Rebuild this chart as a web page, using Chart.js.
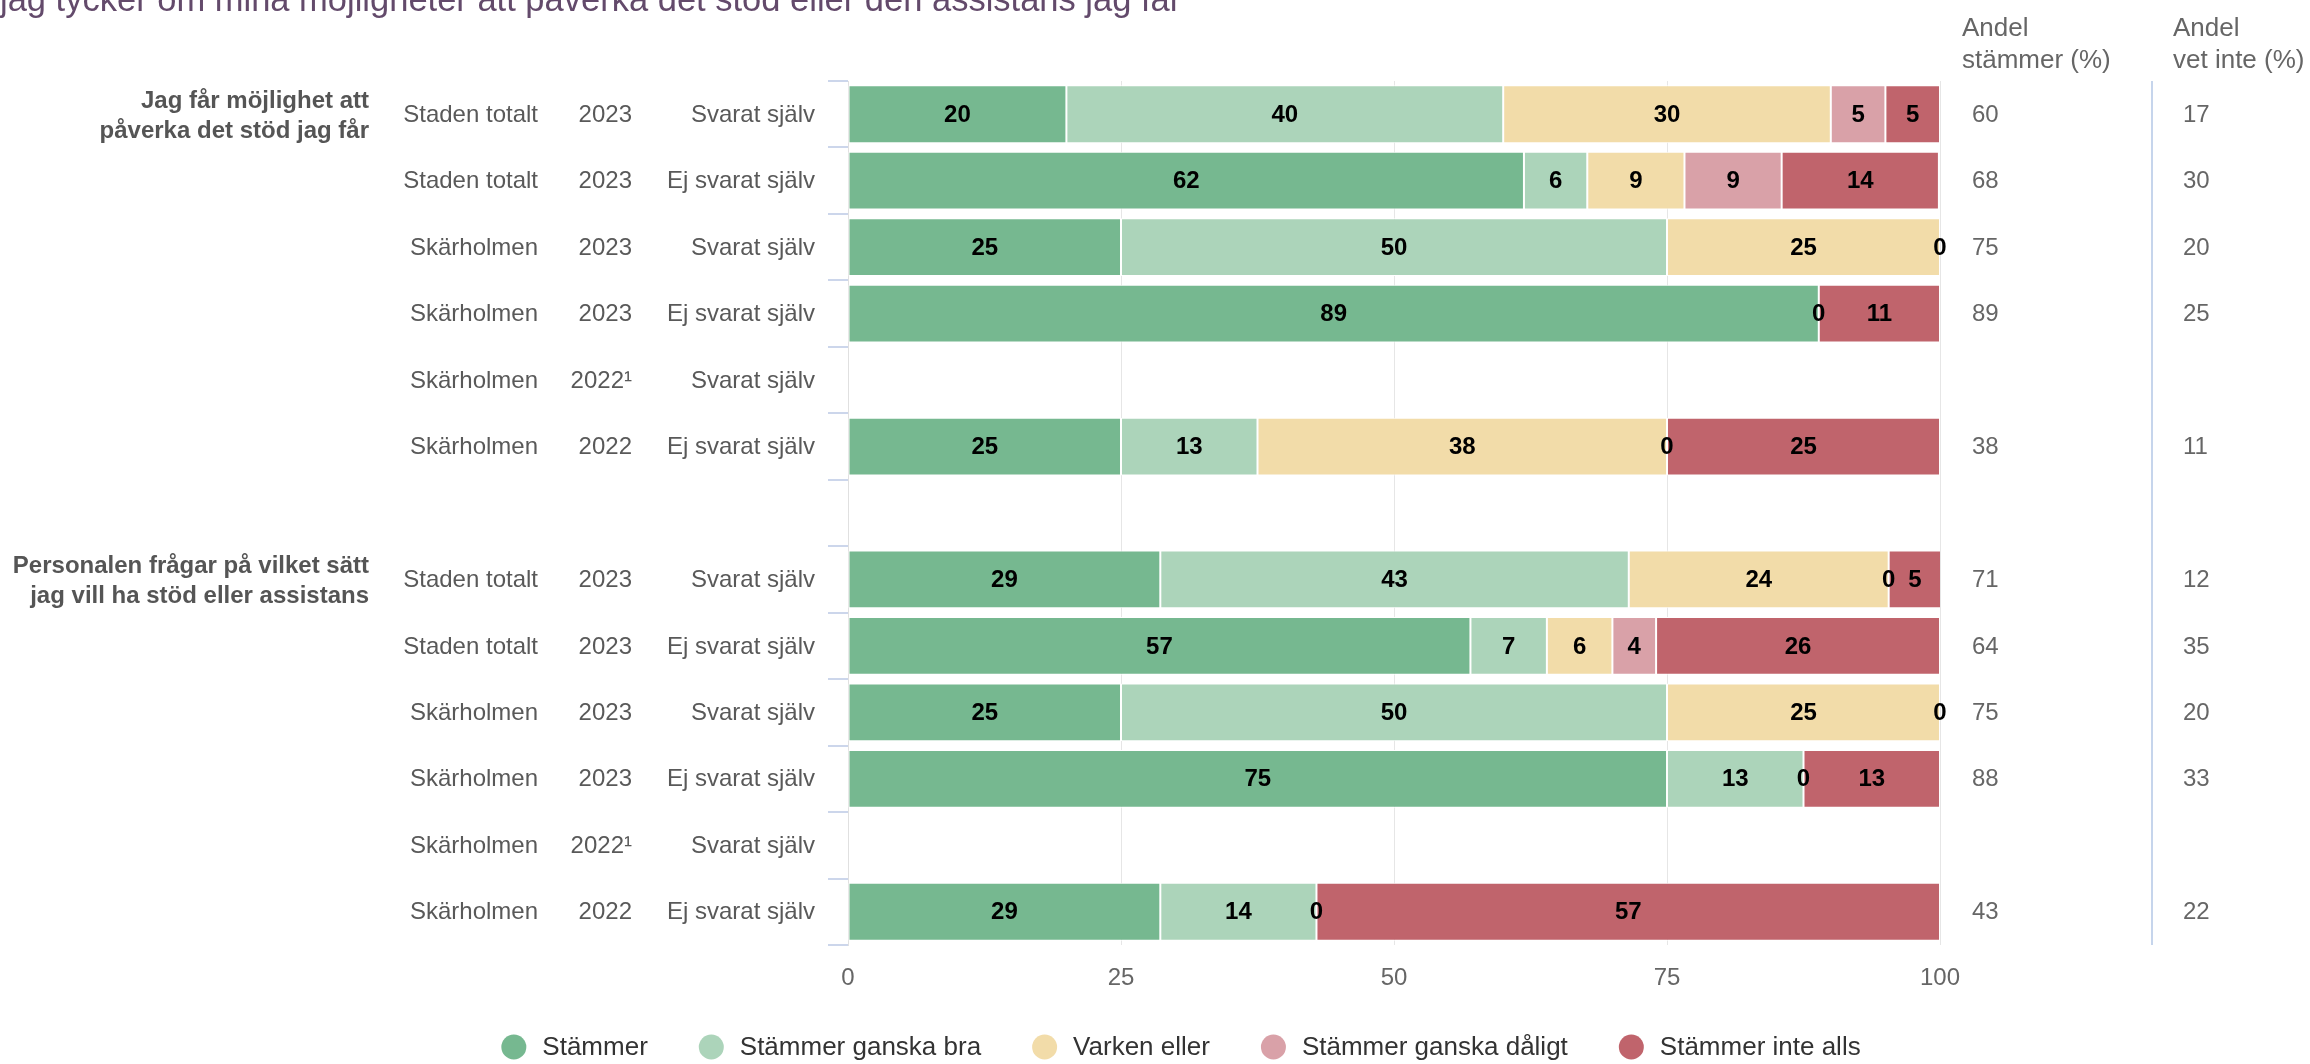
<!DOCTYPE html>
<html><head><meta charset="utf-8">
<script src="https://cdn.jsdelivr.net/npm/chart.js@4.4.1/dist/chart.umd.min.js"></script>
<style>html,body{margin:0;padding:0;background:#fff}#wrap{width:2310px;height:1064px;position:relative}</style>
</head><body><div id="wrap"><canvas id="c"></canvas></div>
<script>
const FONT = '"Liberation Sans", Arial, Helvetica, sans-serif';
const title = 'jag tycker om mina möjligheter att påverka det stöd eller den assistans jag får';
const questionLabels = [['Jag får möjlighet att', 'påverka det stöd jag får'], ['Personalen frågar på vilket sätt', 'jag vill ha stöd eller assistans']];
const questionRows = [0, 7];
const locations = ['Staden totalt', 'Staden totalt', 'Skärholmen', 'Skärholmen', 'Skärholmen', 'Skärholmen', '', 'Staden totalt', 'Staden totalt', 'Skärholmen', 'Skärholmen', 'Skärholmen', 'Skärholmen'];
const years = ['2023', '2023', '2023', '2023', '2022¹', '2022', '', '2023', '2023', '2023', '2023', '2022¹', '2022'];
const respondents = ['Svarat själv', 'Ej svarat själv', 'Svarat själv', 'Ej svarat själv', 'Svarat själv', 'Ej svarat själv', '', 'Svarat själv', 'Ej svarat själv', 'Svarat själv', 'Ej svarat själv', 'Svarat själv', 'Ej svarat själv'];
const seriesNames = ['Stämmer', 'Stämmer ganska bra', 'Varken eller', 'Stämmer ganska dåligt', 'Stämmer inte alls'];
const seriesColors = ['#76b890', '#acd4ba', '#f2dca9', '#d9a1a8', '#c0646c'];
const stammer      = [20, 61.9, 25, 88.9, null, 25,   null, 28.6, 57, 25, 75,   null, 28.6];
const ganskaBra    = [40,  5.8, 50,  0,   null, 12.5, null, 42.9,  7, 50, 12.5, null, 14.3];
const varken       = [30,  8.9, 25,  0,   null, 37.5, null, 23.8,  6, 25,  0,   null,  0];
const ganskaDaligt = [ 5,  8.9,  0,  0,   null,  0,   null,  0,    4,  0,  0,   null,  0];
const inteAlls     = [ 5, 14.4,  0, 11.1, null, 25,   null,  4.8, 26,  0, 12.5, null, 57.1];
const andelStammer = ['60', '68', '75', '89', '', '38', '', '71', '64', '75', '88', '', '43'];
const andelVetInte = ['17', '30', '20', '25', '', '11', '', '12', '35', '20', '33', '', '22'];
const colHeaders = [['Andel', 'stämmer (%)'], ['Andel', 'vet inte (%)']];
const xMin = 0, xMax = 100, xStep = 25;

const categories = locations.map((l, i) => (l + ' ' + years[i] + ' ' + respondents[i]).trim());
const seriesData = [stammer, ganskaBra, varken, ganskaDaligt, inteAlls];

const datasets = seriesNames.map((name, k) => ({
  label: name,
  data: seriesData[k],
  backgroundColor: seriesColors[k],
  borderColor: '#ffffff',
  borderWidth: 1,
  borderSkipped: false,
  categoryPercentage: 1,
  barPercentage: 0.87
}));

const labelsPlugin = {
  id: 'customLabels',
  afterDatasetsDraw(chart) {
    const ctx = chart.ctx;
    ctx.save();
    ctx.font = 'bold 24px ' + FONT;
    ctx.fillStyle = '#000';
    ctx.textAlign = 'center';
    ctx.textBaseline = 'middle';
    for (let i = 0; i < categories.length; i++) {
      const boxes = [];
      chart.data.datasets.forEach((ds, d) => {
        const v = ds.data[i];
        if (v === null || v === undefined) return;
        const el = chart.getDatasetMeta(d).data[i];
        const x = (el.x + el.base) / 2;
        const t = String(Math.round(v));
        const w = ctx.measureText(t).width;
        const b = [x - w / 2 - 2, x + w / 2 + 2];
        if (boxes.some(o => b[0] < o[1] && b[1] > o[0])) return;
        boxes.push(b);
        ctx.fillText(t, x, el.y + 1);
      });
    }
    ctx.restore();
  },
  afterDraw(chart) {
    const ctx = chart.ctx;
    const ys = chart.scales.y;
    const area = chart.chartArea;
    ctx.save();
    // title
    ctx.font = '34.5px ' + FONT;
    ctx.fillStyle = '#634a6b';
    ctx.textAlign = 'left';
    ctx.textBaseline = 'alphabetic';
    ctx.fillText(title, 0, 11);
    // row labels
    ctx.font = '24px ' + FONT;
    ctx.fillStyle = '#595959';
    ctx.textBaseline = 'middle';
    for (let i = 0; i < categories.length; i++) {
      const y = ys.getPixelForValue(i) + 1;
      ctx.textAlign = 'right';
      ctx.fillText(locations[i], 538, y);
      ctx.fillText(years[i], 632, y);
      ctx.fillText(respondents[i], 815, y);
    }
    // question labels
    ctx.font = 'bold 24px ' + FONT;
    ctx.fillStyle = '#555';
    questionLabels.forEach((lines, q) => {
      const y = ys.getPixelForValue(questionRows[q]) + 1;
      ctx.fillText(lines[0], 369, y - 14);
      ctx.fillText(lines[1], 369, y + 16);
    });
    // right columns
    ctx.strokeStyle = '#c6d5ec';
    ctx.lineWidth = 2;
    ctx.beginPath();
    ctx.moveTo(2152, area.top);
    ctx.lineTo(2152, area.bottom);
    ctx.stroke();
    ctx.font = '26px ' + FONT;
    ctx.fillStyle = '#666';
    ctx.textAlign = 'left';
    ctx.textBaseline = 'alphabetic';
    const colX = [1962, 2173];
    colHeaders.forEach((h, c) => {
      ctx.fillText(h[0], colX[c], 36);
      ctx.fillText(h[1], colX[c], 68);
    });
    ctx.font = '24px ' + FONT;
    ctx.textBaseline = 'middle';
    for (let i = 0; i < categories.length; i++) {
      const y = ys.getPixelForValue(i) + 1;
      ctx.fillText(andelStammer[i], 1972, y);
      ctx.fillText(andelVetInte[i], 2183, y);
    }
    // legend
    ctx.font = '26px ' + FONT;
    const r = 12.5, gapText = 16, gapItem = 51;
    const widths = chart.data.datasets.map(ds => ctx.measureText(ds.label).width);
    let total = 0;
    widths.forEach((w, k) => { total += 2 * r + gapText + w + (k < widths.length - 1 ? gapItem : 0); });
    let x = 1181 - total / 2;
    const ly = 1047;
    chart.data.datasets.forEach((ds, k) => {
      ctx.fillStyle = ds.backgroundColor;
      ctx.beginPath();
      ctx.arc(x + r, ly, r, 0, Math.PI * 2);
      ctx.fill();
      ctx.fillStyle = '#333';
      ctx.textAlign = 'left';
      ctx.fillText(ds.label, x + 2 * r + gapText, ly + 1);
      x += 2 * r + gapText + widths[k] + gapItem;
    });
    ctx.restore();
  }
};

new Chart(document.getElementById('c'), {
  type: 'bar',
  data: { labels: categories, datasets },
  options: {
    indexAxis: 'y',
    responsive: true,
    maintainAspectRatio: false,
    devicePixelRatio: 1,
    animation: false,
    layout: { padding: { left: 828, right: 370, top: 81, bottom: 59 } },
    plugins: { legend: { display: false }, tooltip: { enabled: false }, title: { display: false } },
    scales: {
      x: {
        stacked: true,
        min: xMin, max: xMax,
        ticks: { stepSize: xStep, color: '#666', font: { size: 24, family: FONT }, padding: 19 },
        grid: { color: '#e6e6e6', lineWidth: 1, drawTicks: false },
        border: { display: false },
        afterFit(s) { s.height = 60; }
      },
      y: {
        stacked: true,
        ticks: { display: false, autoSkip: false },
        grid: { offset: true, drawOnChartArea: false, drawTicks: true, tickLength: 20, color: '#ccd6eb', lineWidth: 2 },
        border: { display: true, color: '#e0e0e0', width: 1 },
        afterFit(s) { s.width = 20; }
      }
    }
  },
  plugins: [labelsPlugin]
});
</script>
</body></html>
